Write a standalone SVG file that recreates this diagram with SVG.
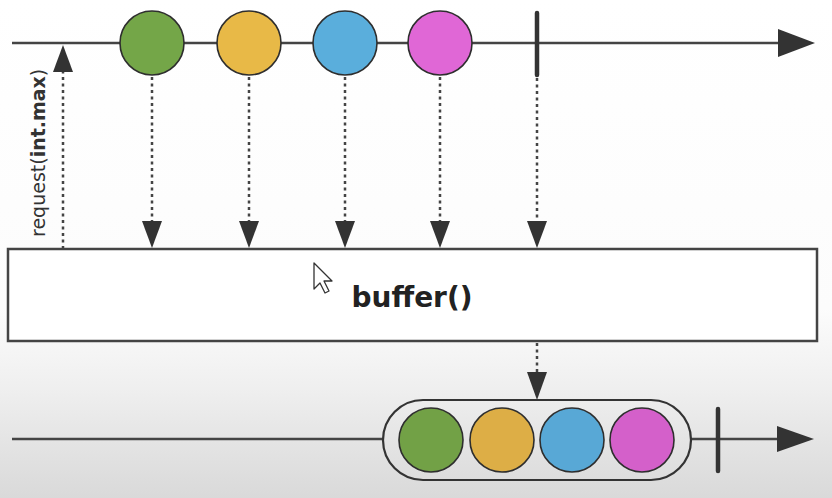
<svg xmlns="http://www.w3.org/2000/svg" width="832" height="498" viewBox="0 0 832 498">
  <defs>
    <linearGradient id="bg" x1="0" y1="0" x2="0" y2="1">
      <stop offset="0" stop-color="#ffffff"/>
      <stop offset="0.62" stop-color="#fcfcfc"/>
      <stop offset="0.78" stop-color="#efefef"/>
      <stop offset="1" stop-color="#d9d9d9"/>
    </linearGradient>
  </defs>
  <style>
    .line { stroke: #444; stroke-width: 2.5; fill: none; }
    .dot { stroke: #444; stroke-width: 2.5; stroke-dasharray: 3 3.5; fill: none; }
    .head { fill: #333; }
    .marble { stroke: #2e2e2e; stroke-width: 1.6; }
    .term { stroke: #333; stroke-width: 4.5; stroke-linecap: round; }
    .green { fill: #74a648; }
    .yellow { fill: #e8b947; }
    .blue { fill: #5aaedc; }
    .pink { fill: #e067d6; }
    .op { fill: #ffffff; stroke: #444; stroke-width: 2.5; }
    .opText { font-family: "DejaVu Sans", Verdana, sans-serif; font-weight: bold; font-size: 28px; fill: #222; }
    .req { font-family: "DejaVu Sans", Verdana, sans-serif; font-size: 19px; fill: #333; }
  </style>

  <rect x="0" y="0" width="832" height="498" fill="url(#bg)"/>

  <!-- source timeline -->
  <g id="source-timeline">
    <line class="line" x1="12" y1="43" x2="780" y2="43"/>
    <polygon class="head" points="778,29 815,43 778,57"/>
  </g>

  <g id="marble-green-top"><circle class="marble green" cx="152" cy="43" r="32"/></g>
  <g id="marble-yellow-top"><circle class="marble yellow" cx="249" cy="43" r="32"/></g>
  <g id="marble-blue-top"><circle class="marble blue" cx="345" cy="43" r="32"/></g>
  <g id="marble-pink-top"><circle class="marble pink" cx="440" cy="43" r="32"/></g>
  <g id="complete-top"><line class="term" x1="537" y1="13" x2="537" y2="75"/></g>

  <!-- operator box -->
  <g id="buffer-operator">
    <rect class="op" x="8" y="249" width="809" height="92"/>
    <text class="opText" x="412" y="307" text-anchor="middle">buffer()</text>
  </g>

  <!-- request label -->
  <g id="request-label">
    <text class="req" transform="translate(45,237) rotate(-90)">request(<tspan font-weight="bold">int.max</tspan>)</text>
  </g>

  <!-- connectors -->
  <g id="connectors">
    <line class="dot" x1="63" y1="249" x2="63" y2="72"/>
    <polygon class="head" points="53,72 63,45 73,72"/>

    <line class="dot" x1="152" y1="77" x2="152" y2="222"/>
    <polygon class="head" points="142,221 152,248 162,221"/>
    <line class="dot" x1="249" y1="77" x2="249" y2="222"/>
    <polygon class="head" points="239,221 249,248 259,221"/>
    <line class="dot" x1="345" y1="77" x2="345" y2="222"/>
    <polygon class="head" points="335,221 345,248 355,221"/>
    <line class="dot" x1="440" y1="77" x2="440" y2="222"/>
    <polygon class="head" points="430,221 440,248 450,221"/>
    <line class="dot" x1="537" y1="78" x2="537" y2="222"/>
    <polygon class="head" points="527,221 537,248 547,221"/>

    <line class="dot" x1="537" y1="343" x2="537" y2="373"/>
    <polygon class="head" points="527,372 537,400 547,372"/>
  </g>

  <!-- result timeline -->
  <g id="result-timeline">
    <line class="line" x1="12" y1="439" x2="383" y2="439"/>
    <line class="line" x1="691" y1="439" x2="779" y2="439"/>
    <polygon class="head" points="777,426 814,439 777,452"/>
  </g>

  <g id="buffer-emission">
    <rect x="383" y="400" width="308" height="80" rx="40" ry="40" fill="none" stroke="#333" stroke-width="2.2"/>
    <circle class="marble" fill="#72a146" cx="431" cy="440" r="32"/>
    <circle class="marble" fill="#ddae46" cx="502" cy="440" r="32"/>
    <circle class="marble" fill="#58a8d6" cx="572" cy="440" r="32"/>
    <circle class="marble" fill="#d460ca" cx="642" cy="440" r="32"/>
  </g>
  <g id="complete-bottom"><line class="term" x1="718" y1="409" x2="718" y2="471"/></g>

  <!-- mouse cursor -->
  <g id="cursor">
    <path d="M314,263 L314,289 L320,283 L325,293 L329,291 L324,281 L332,281 Z" fill="#ffffff" stroke="#333" stroke-width="1.3" stroke-linejoin="round"/>
  </g>
</svg>
